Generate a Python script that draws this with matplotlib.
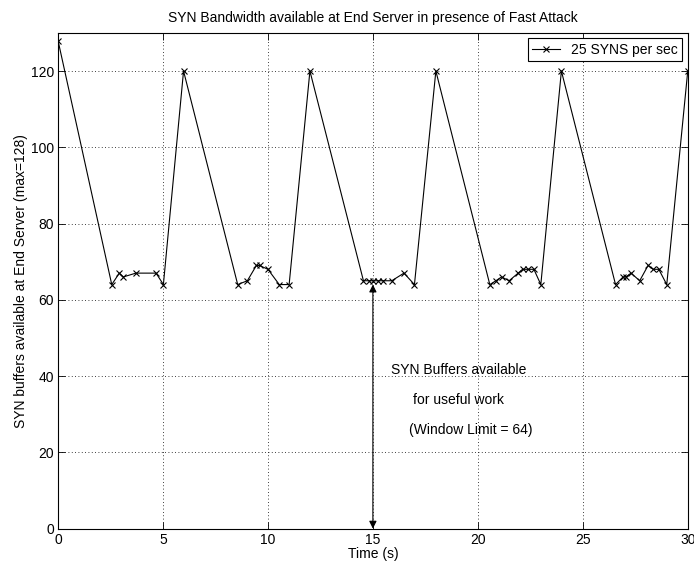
import matplotlib
matplotlib.use('Agg')
import matplotlib.pyplot as plt

plt.rcParams['font.family'] = ['Liberation Sans', 'DejaVu Sans']

# dados
tempo = [0, 2.56, 2.92, 3.11, 3.71, 4.67, 5.02, 5.98,
         8.56, 9.02, 9.45, 9.6, 10.0, 10.54, 11.01, 12.0,
         14.55, 14.8, 15.0, 15.25, 15.5, 15.9, 16.48, 16.98, 18.0,
         20.57, 20.86, 21.13, 21.49, 21.92, 22.13, 22.4, 22.67, 23.0, 23.98,
         26.56, 26.92, 27.05, 27.3, 27.71, 28.11, 28.35, 28.62, 29.0, 30.0]
buffers = [128, 64, 67, 66, 67, 67, 64, 120,
           64, 65, 69, 69, 68, 64, 64, 120,
           65, 65, 65, 65, 65, 65, 67, 64, 120,
           64, 65, 66, 65, 67, 68, 68, 68, 64, 120,
           64, 66, 66, 67, 65, 69, 68, 68, 64, 120]
xticks = [0, 5, 10, 15, 20, 25, 30]
yticks = [0, 20, 40, 60, 80, 100, 120]

fs = 10

fig = plt.figure(figsize=(6.94, 5.67), dpi=100)
ax = fig.add_axes([0.0836, 0.0677, 0.9074, 0.8743])

ax.plot(tempo, buffers, color='black', marker='x', markersize=5,
        linewidth=0.8, markeredgewidth=0.8, label='25 SYNS per sec')

ax.set_xlim(0, 30)
ax.set_ylim(0, 130)
ax.set_xticks(xticks)
ax.set_yticks(yticks)
ax.tick_params(direction='in', top=True, right=True, labelsize=fs, length=5, width=0.6, pad=3)
ax.grid(True, linestyle=(0, (1, 3)), color='black', linewidth=0.6)
for s in ax.spines.values():
    s.set_linewidth(0.8)

ax.set_title('SYN Bandwidth available at End Server in presence of Fast Attack', fontsize=fs, pad=8)
ax.set_xlabel('Time (s)', fontsize=fs, labelpad=0)
ax.set_ylabel('SYN buffers available at End Server (max=128)', fontsize=fs, labelpad=2)

# seta dupla mostrando a janela
ax.annotate('', xy=(15, 0), xytext=(15, 64),
            arrowprops=dict(arrowstyle='<|-|>', color='black', lw=0.8,
                            mutation_scale=11, shrinkA=0, shrinkB=0))
ax.text(15.85, 41.7, 'SYN Buffers available', fontsize=fs, va='center')
ax.text(16.9, 33.8, 'for useful work', fontsize=fs, va='center')
ax.text(16.7, 25.8, '(Window Limit = 64)', fontsize=fs, va='center')

leg = ax.legend(loc='upper right', fontsize=fs, fancybox=False, framealpha=1,
                edgecolor='black', borderpad=0.3, handlelength=2.0,
                handletextpad=0.8, borderaxespad=0.4)
leg.get_frame().set_linewidth(0.8)

fig.savefig('out.png', dpi=100)
